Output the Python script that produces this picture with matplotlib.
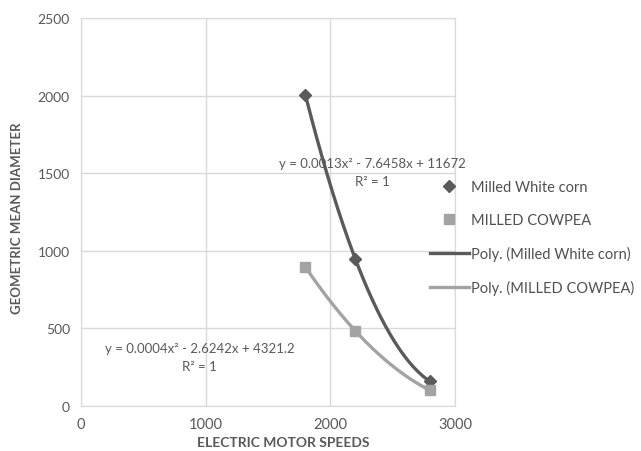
import numpy as np
import matplotlib.pyplot as plt

# values
speeds = [1800, 2200, 2800]
corn = [2004, 948, 158]
cowpea = [895, 484, 100]
corn_eq = 'y = 0.0013x² - 7.6458x + 11672\nR² = 1'
cowpea_eq = 'y = 0.0004x² - 2.6242x + 4321.2\nR² = 1'

plt.rcParams['font.family'] = ['Lato', 'DejaVu Sans']
dark = '#5a5a5a'
light = '#a3a3a3'
grid = '#d9d9d9'
txt = '#595959'

fig = plt.figure(figsize=(6.41, 4.52), dpi=100)
ax = fig.add_axes([0.1264, 0.0996, 0.5835, 0.8584])

# polynomial trendlines (order 2) through the data
xs = np.linspace(speeds[0], speeds[-1], 200)
pc = np.polyfit(speeds, corn, 2)
pw = np.polyfit(speeds, cowpea, 2)
ax.plot(xs, np.polyval(pc, xs), color=dark, lw=2.4, zorder=3, label='Poly. (Milled White corn)')
ax.plot(xs, np.polyval(pw, xs), color=light, lw=2.4, zorder=3, label='Poly. (MILLED COWPEA)')
ax.plot(speeds, corn, 'D', color=dark, ms=6, ls='none', zorder=4, label='Milled White corn')
ax.plot(speeds, cowpea, 's', color=light, ms=7, ls='none', zorder=4, label='MILLED COWPEA')

ax.set_xlim(0, 3000)
ax.set_ylim(0, 2500)
ax.set_xticks([0, 1000, 2000, 3000])
ax.set_yticks([0, 500, 1000, 1500, 2000, 2500])
ax.grid(True, color=grid, lw=1)
ax.set_axisbelow(True)
for s in ax.spines.values():
    s.set_color(grid)
ax.tick_params(length=0, colors=txt, labelsize=10, pad=8)
ax.tick_params(axis='x', labelsize=10.5)

ax.set_xlabel('ELECTRIC MOTOR SPEEDS', fontsize=10, fontweight='bold', color=txt)
ax.xaxis.set_label_coords((283 - 81) / 374, -(437 - 407) / 388, transform=ax.transAxes)
ax.set_ylabel('GEOMETRIC MEAN DIAMETER', fontsize=9.5, fontweight='bold', color=txt)
ax.yaxis.set_label_coords(-(81 - 23) / 374, (407 - 218) / 388, transform=ax.transAxes)

ax.text(2340, 1410, corn_eq, ha='center', va='bottom', fontsize=9.5, color=txt, linespacing=1.6)
ax.text(950, 220, cowpea_eq, ha='center', va='bottom', fontsize=9.5, color=txt, linespacing=1.55)

h, l = ax.get_legend_handles_labels()
order = [2, 3, 0, 1]
fig.legend([h[i] for i in order], [l[i] for i in order], loc='upper left',
           bbox_to_anchor=(0.659, 0.616), frameon=False, fontsize=10.5,
           labelcolor='#505050', handlelength=2.7, handletextpad=0.1,
           labelspacing=1.3, borderpad=0)

fig.savefig('out.png', dpi=100)
